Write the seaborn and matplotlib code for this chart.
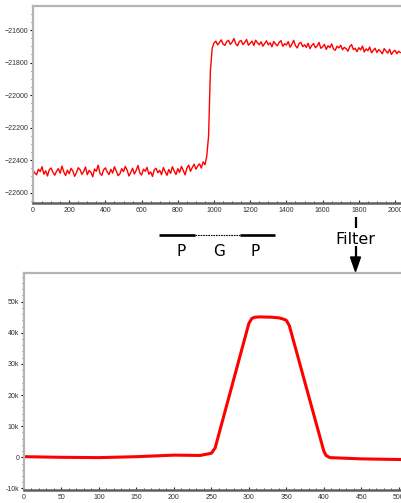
import numpy as np
import pandas as pd
import matplotlib
matplotlib.use("Agg")
import matplotlib.pyplot as plt
import seaborn as sns
from matplotlib.ticker import MultipleLocator, FuncFormatter
from matplotlib.patches import Polygon

# ---------------- data ----------------
# upper trace: signal sampled every 10 units from 0 to 2030
top_step = 10
top_values = [
    -22462, -22478, -22490, -22455, -22470, -22440, -22486, -22465, -22497, -22458,
    -22448, -22475, -22492, -22468, -22452, -22480, -22436, -22472, -22494, -22461,
    -22483, -22450, -22466, -22499, -22477, -22446, -22458, -22487, -22470, -22442,
    -22489, -22463, -22475, -22502, -22454, -22468, -22430, -22481, -22493, -22459,
    -22447, -22472, -22488, -22456, -22479, -22440, -22466, -22495, -22484, -22452,
    -22470, -22438, -22461, -22497, -22476, -22449, -22485, -22463, -22432, -22478,
    -22491, -22455, -22468, -22444, -22486, -22472, -22500, -22459, -22450, -22477,
    -22462, -22489, -22445, -22470, -22493, -22457, -22481, -22440, -22466, -22488,
    -22452, -22475, -22438, -22463, -22490, -22449, -22430, -22468, -22445, -22424,
    -22455,
    -22436, -22422, -22448, -22410, -22428, -22375, -22250, -21850, -21710,
    -21680, -21668, -21691, -21676, -21660, -21686, -21694, -21671, -21663, -21688,
    -21675, -21652, -21684, -21697, -21670, -21664, -21689, -21676, -21658, -21693,
    -21681, -21668, -21695, -21662, -21679, -21690, -21672, -21699, -21683, -21666,
    -21691, -21678, -21703, -21670, -21686, -21697, -21675, -21665, -21700, -21684,
    -21692, -21671, -21705, -21688, -21663, -21696, -21710, -21682, -21676, -21702,
    -21690, -21707, -21681, -21714, -21695, -21683, -21709, -21698, -21676, -21712,
    -21703, -21688, -21719, -21696, -21708, -21685, -21716, -21724, -21699, -21710,
    -21693, -21721, -21706, -21715, -21730, -21702, -21689, -21720, -21712, -21733,
    -21708, -21722, -21698, -21735, -21716, -21727, -21704, -21740, -21724, -21712,
    -21738, -21720, -21731, -21746, -21714, -21729, -21742, -21718, -21750, -21733,
    -21724, -21745, -21730, -21739,
]
top_x = np.arange(len(top_values)) * top_step

# lower trace: filtered signal
bottom_x = [0, 50, 100, 150, 200, 235, 250, 255, 300, 304, 308, 315, 330, 340,
            346, 350, 354, 400, 403, 408, 450, 500, 503]
bottom_y = [200, 0, -100, 200, 700, 600, 1300, 3000, 43000, 44600, 45000, 45100,
            45000, 44800, 44400, 44000, 42300, 2000, 600, -100, -500, -700, -700]

top_xticks = [0, 200, 400, 600, 800, 1000, 1200, 1400, 1600, 1800, 2000]
top_yticks = [-21600, -21800, -22000, -22200, -22400, -22600]
bottom_xticks = [0, 50, 100, 150, 200, 250, 300, 350, 400, 450, 500]
bottom_yticks = [-10000, 0, 10000, 20000, 30000, 40000, 50000]

segment_labels = ["P", "G", "P"]
filter_label = "Filter"

# ---------------- style ----------------
sns.set_theme(style="white")
plt.rcParams['font.family'] = ['Liberation Sans', 'DejaVu Sans']

W, H = 401, 503
fig = plt.figure(figsize=(W / 100, H / 100), dpi=100)

def px_axes(left, top, right, bottom):
    return fig.add_axes([left / W, 1 - bottom / H, (right - left) / W, (bottom - top) / H])

def style_axes(ax):
    for s in ['top', 'left']:
        ax.spines[s].set_color('#b4b4b4')
        ax.spines[s].set_linewidth(1.6)
    ax.spines['bottom'].set_color('#606060')
    ax.spines['bottom'].set_linewidth(1.8)
    ax.spines['right'].set_visible(False)
    ax.tick_params(axis='y', which='major', direction='out', length=2.5, width=0.8,
                   color='black', labelsize=5, labelcolor='#303030', pad=1, left=True)
    ax.tick_params(axis='y', which='minor', direction='out', length=1.2, width=0.6,
                   color='#404040', left=True)
    ax.tick_params(axis='x', which='major', direction='in', length=2.5, width=0.8,
                   color='#303030', labelsize=5, labelcolor='#303030', pad=3, bottom=True)
    ax.tick_params(axis='x', which='minor', direction='in', length=1.5, width=0.6,
                   color='#303030', bottom=True)
    ax.set_xlabel("")
    ax.set_ylabel("")

# ---------------- upper chart ----------------
ax1 = px_axes(33, 6, 401, 203)
df_top = pd.DataFrame({"x": top_x, "y": top_values})
sns.lineplot(data=df_top, x="x", y="y", ax=ax1, color="#ff0000", linewidth=1.0)
ax1.set_xlim(0, 2033)
ax1.set_ylim(-22663, -21452)
ax1.set_xticks(top_xticks)
ax1.set_yticks(top_yticks)
ax1.xaxis.set_minor_locator(MultipleLocator(50))
ax1.yaxis.set_minor_locator(MultipleLocator(50))
style_axes(ax1)

# ---------------- lower chart ----------------
ax2 = px_axes(24, 273, 401, 490)
df_bot = pd.DataFrame({"x": bottom_x, "y": bottom_y})
sns.lineplot(data=df_bot, x="x", y="y", ax=ax2, color="#ff0000", linewidth=2.2)
ax2.set_xlim(0, 503)
ax2.set_ylim(-10500, 59200)
ax2.set_xticks(bottom_xticks)
ax2.set_yticks(bottom_yticks)
ax2.xaxis.set_minor_locator(MultipleLocator(10))
ax2.yaxis.set_minor_locator(MultipleLocator(2000))
ax2.yaxis.set_major_formatter(FuncFormatter(lambda v, p: "0" if v == 0 else f"{int(v/1000)}k"))
style_axes(ax2)

# ---------------- annotation overlay ----------------
ov = fig.add_axes([0, 0, 1, 1])
ov.set_xlim(0, W)
ov.set_ylim(H, 0)
ov.axis('off')
ov.patch.set_alpha(0)

# P - G - P construct
ov.plot([159, 195], [235, 235], color='black', lw=1.9, solid_capstyle='butt')
ov.plot([195, 240], [235, 235], color='black', lw=0.8, dashes=(1.5, 0.8))
ov.plot([240, 275], [235, 235], color='black', lw=1.9, solid_capstyle='butt')
for xpos, lab in zip([181, 219, 255], segment_labels):
    ov.text(xpos, 256, lab, ha='center', va='baseline', fontsize=11,
            family='DejaVu Sans', color='black')

# Filter arrow
ov.plot([355.5, 355.5], [217, 228], color='black', lw=1.6, solid_capstyle='butt')
ov.text(355, 244, filter_label, ha='center', va='baseline', fontsize=11.5,
        family='DejaVu Sans', color='black')
ov.plot([355.5, 355.5], [246, 258], color='black', lw=1.6, solid_capstyle='butt')
ov.add_patch(Polygon([[350.5, 257], [360.5, 257], [355.5, 271.5]], closed=True,
                     color='black'))

fig.savefig("out.png", dpi=100)
